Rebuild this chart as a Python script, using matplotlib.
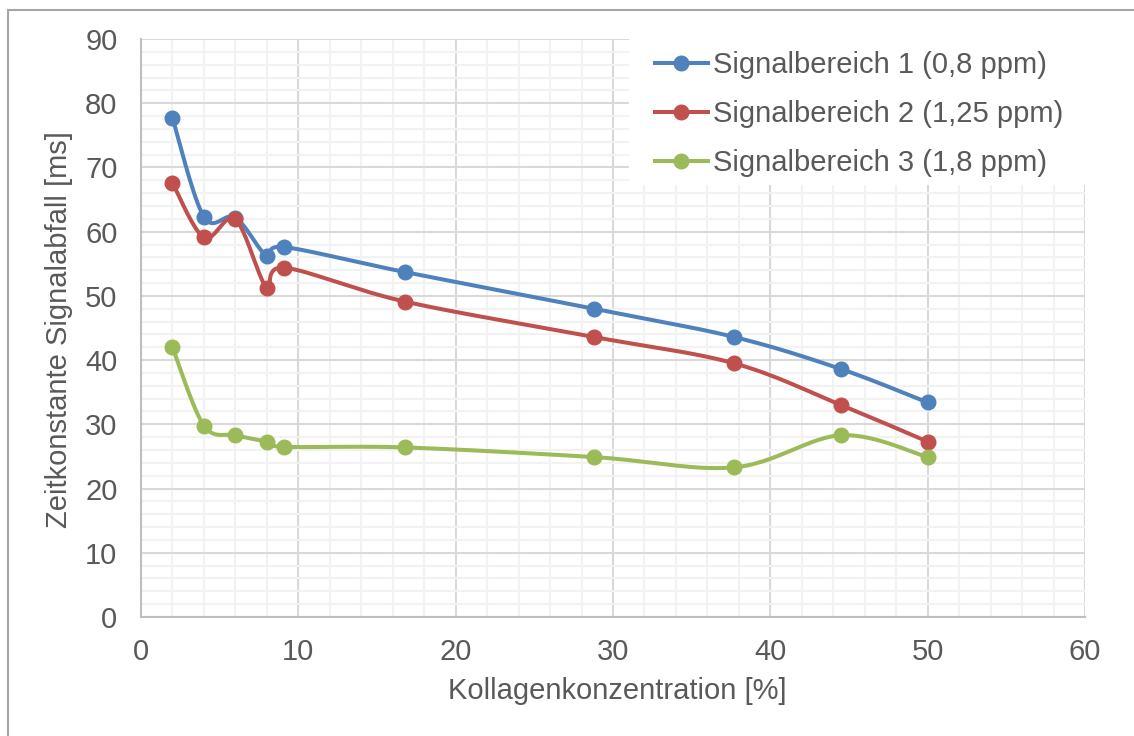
import numpy as np
import matplotlib
matplotlib.use("Agg")
import matplotlib.pyplot as plt
from matplotlib.patches import Rectangle
from matplotlib.ticker import MultipleLocator

# Kollagenkonzentration [%] und Zeitkonstanten [ms]
konzentration = [2, 4, 6, 8, 9.1, 16.8, 28.8, 37.7, 44.5, 50]
bereich1 = [77.7, 62.3, 62.2, 56.2, 57.6, 53.7, 48.0, 43.6, 38.6, 33.4]
bereich2 = [67.6, 59.1, 61.9, 51.2, 54.4, 49.1, 43.6, 39.5, 33.0, 27.3]
bereich3 = [42.0, 29.8, 28.3, 27.3, 26.5, 26.4, 24.9, 23.3, 28.3, 24.9]
namen = ["Signalbereich 1 (0,8 ppm)",
         "Signalbereich 2 (1,25 ppm)",
         "Signalbereich 3 (1,8 ppm)"]
farben = ["#4F81BD", "#C0504D", "#9BBB59"]

grau = "#595959"
fs = 21
plt.rcParams["font.family"] = ["Liberation Sans", "DejaVu Sans"]
plt.rcParams["font.size"] = fs


def glatt(x, y, n=30):
    # Bezier-Glaettung wie bei Excel-Liniendiagrammen
    x = np.asarray(x, float)
    y = np.asarray(y, float)
    px, py = [x[0]], [y[0]]
    t = np.linspace(0, 1, n)[1:]
    for i in range(len(x) - 1):
        a = max(i - 1, 0)
        b = min(i + 2, len(x) - 1)
        c1x = x[i] + (x[i + 1] - x[a]) / 6
        c1y = y[i] + (y[i + 1] - y[a]) / 6
        c2x = x[i + 1] - (x[b] - x[i]) / 6
        c2y = y[i + 1] - (y[b] - y[i]) / 6
        bx = ((1 - t) ** 3 * x[i] + 3 * (1 - t) ** 2 * t * c1x
              + 3 * (1 - t) * t ** 2 * c2x + t ** 3 * x[i + 1])
        by = ((1 - t) ** 3 * y[i] + 3 * (1 - t) ** 2 * t * c1y
              + 3 * (1 - t) * t ** 2 * c2y + t ** 3 * y[i + 1])
        px.extend(bx)
        py.extend(by)
    return np.array(px), np.array(py)


fig = plt.figure(figsize=(11.34, 7.36), dpi=100)
ax = fig.add_axes([141 / 1134, 1 - 617 / 736, 944 / 1134, 578 / 736])

# Rahmen um das Diagramm (oben und links)
fig.add_artist(plt.Line2D([8 / 1134, 8 / 1134], [0, 1 - 10 / 736],
                          transform=fig.transFigure, color="#A6A6A6", lw=1.5))
fig.add_artist(plt.Line2D([8 / 1134, 1], [1 - 10 / 736, 1 - 10 / 736],
                          transform=fig.transFigure, color="#A6A6A6", lw=1.5))

for werte, name, farbe in zip([bereich1, bereich2, bereich3], namen, farben):
    sx, sy = glatt(konzentration, werte)
    ax.plot(sx, sy, color=farbe, lw=2.9, solid_capstyle="round", zorder=3)
    ax.plot(konzentration, werte, "o", color=farbe, ms=10.5, zorder=4)
    ax.plot([], [], "-o", color=farbe, lw=2.9, ms=10.5, label=name)

ax.set_xlim(0, 60)
ax.set_ylim(0, 90)
ax.xaxis.set_major_locator(MultipleLocator(10))
ax.xaxis.set_minor_locator(MultipleLocator(2))
ax.yaxis.set_major_locator(MultipleLocator(10))
ax.yaxis.set_minor_locator(MultipleLocator(2))
ax.grid(which="minor", color="#F2F2F2", lw=1.5, zorder=0)
ax.grid(which="major", color="#D9D9D9", lw=1.5, zorder=1)
ax.set_axisbelow(True)

for s in ["top", "right"]:
    ax.spines[s].set_visible(False)
for s in ["left", "bottom"]:
    ax.spines[s].set_color("#BFBFBF")
    ax.spines[s].set_linewidth(1.5)

ax.tick_params(which="both", length=0, colors=grau, labelsize=fs)
ax.tick_params(axis="x", pad=15)
ax.tick_params(axis="y", pad=17)

ax.set_xlabel("Kollagenkonzentration [%]", color=grau, fontsize=fs)
ax.set_ylabel("Zeitkonstante Signalabfall [ms]", color=grau, fontsize=fs)
ax.xaxis.set_label_coords(0.505, -0.104)
ax.yaxis.set_label_coords(-0.072, 0.498)
ax.xaxis.label.set_va("top")

# weisser Hintergrund der Legende
ax.add_patch(Rectangle((0.517, 0.747), 0.483, 0.253, transform=ax.transAxes,
                       facecolor="white", edgecolor="none", zorder=2))
leg = ax.legend(loc="upper left", bbox_to_anchor=(0.5445, 0.9795), fontsize=fs,
                frameon=False, borderaxespad=0, borderpad=0,
                handlelength=1.8, handletextpad=0.2, labelspacing=0.72,
                labelcolor=grau)

fig.savefig("out.png", dpi=100)
